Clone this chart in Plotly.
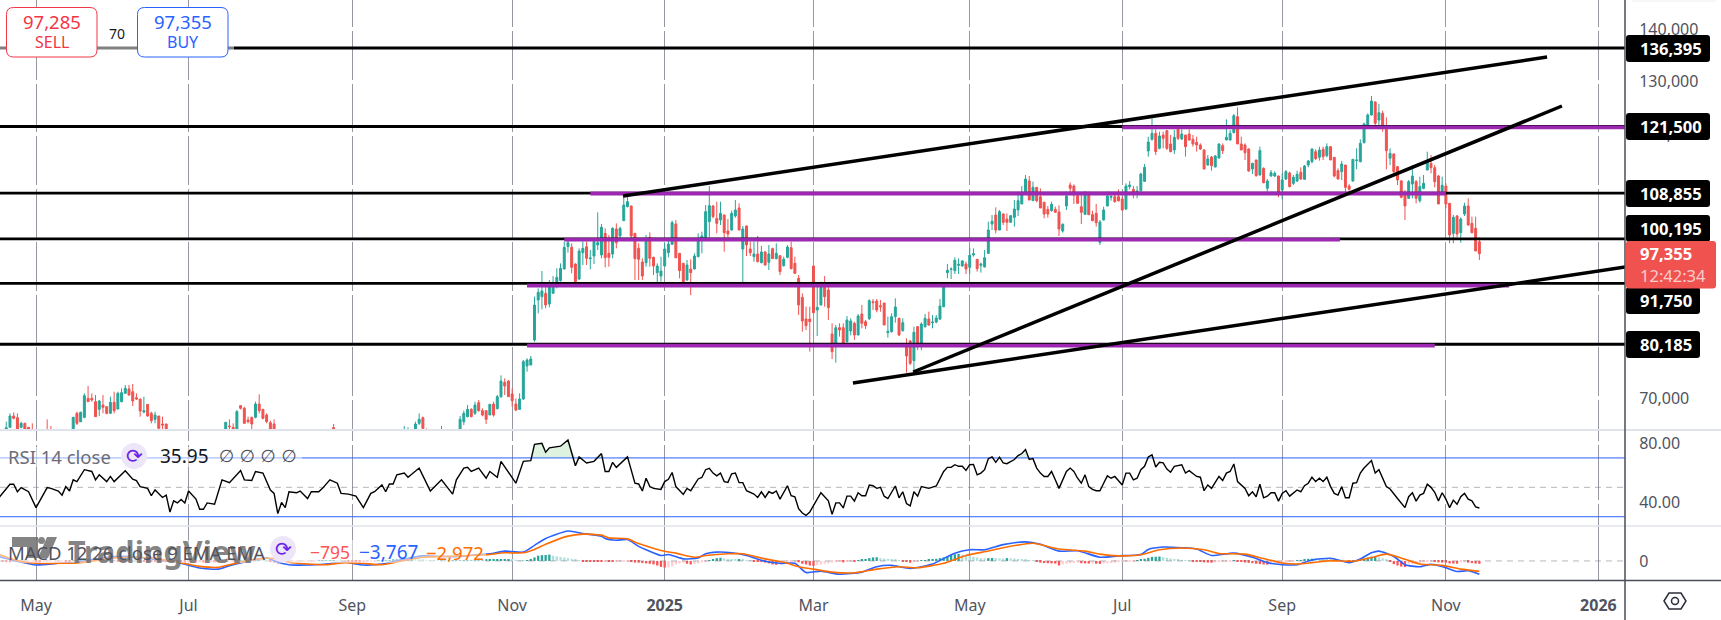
import plotly.graph_objects as go
from plotly.subplots import make_subplots

# candles left of the jump, many of them cut off by the pane bottom
early_bars = [-8, -7, -6, -5, -4, -3, -2, -1, 3, 4,
              10, 11, 12, 13, 14, 15, 16, 17, 18, 19,
              20, 21, 22, 23, 24, 25, 26, 27, 28, 29,
              30, 31, 32, 33, 34, 35,
              51, 52, 53, 54, 55, 56, 57, 58, 59, 60, 61, 62, 63, 64,
              80,
              99, 100, 102, 103, 104, 105, 109,
              114, 115, 116, 117, 118, 119, 120, 121, 122, 123, 124]
early_open = [63800, 64416, 66567, 66251, 64416, 65175, 64416, 63800, 63700, 63700,
              63800, 67073, 65491, 66314, 69920, 69920, 69287, 67832, 68655, 68338,
              67073, 69160, 67896, 69287, 70869, 71691, 71184, 70046, 69793, 67326,
              68781, 67073, 65934, 66567, 65049, 65049,
              63800, 64669, 64416, 63800, 68528, 68023, 65808, 66314, 66314, 68844, 67832, 66757, 65302, 65049,
              64353,
              63600, 63600, 63800, 65175, 66251, 63800, 63600,
              63800, 65491, 66440, 67832, 67073, 69097, 67579, 67579, 66757, 68844, 67959]
early_high = [65490, 67073, 67263, 67073, 65491, 65300, 64500, 65175, 65934, 64669,
              66400, 67389, 67389, 70869, 72260, 70869, 70552, 69603, 70552, 68400,
              70236, 71184, 71184, 71817, 72449, 72449, 72640, 70869, 69793, 70236,
              68781, 67389, 67389, 66567, 66440, 65100,
              65365, 65934, 65175, 67706, 68600, 68338, 66440, 66440, 69287, 70679, 67832, 67073, 65681, 65934,
              65049,
              64669, 64416, 65491, 67073, 66440, 64226, 64669,
              66567, 67579, 68655, 68023, 69287, 69603, 68023, 67579, 68850, 69287, 70552]
early_low = [63500, 64400, 65934, 63500, 64226, 63500, 63500, 63400, 63300, 63300,
             63500, 64859, 65400, 66124, 69287, 69287, 66440, 66567, 67073, 66883,
             67000, 67073, 67832, 69160, 70740, 70426, 68465, 69603, 66440, 67073,
             66440, 65175, 65175, 64100, 63800, 63500,
             63500, 63500, 63500, 63500, 67800, 65175, 65175, 63800, 66124, 67073, 65934, 65175, 63500, 63500,
             63500,
             63400, 63400, 63500, 64859, 63800, 63400, 63400,
             63500, 64859, 66314, 66314, 66757, 67389, 66500, 65049, 66757, 66440, 67832]
early_close = [64350, 66567, 66124, 63800, 65175, 63800, 63800, 63600, 63500, 63500,
               66314, 65175, 67263, 70426, 69287, 69603, 66440, 69413, 68212, 67073,
               69160, 67579, 70869, 70995, 71817, 70552, 69413, 69793, 67516, 67579,
               66567, 65681, 66757, 64226, 64859, 63800,
               65365, 64543, 63800, 67389, 68023, 65175, 65491, 65049, 68844, 67579, 66124, 65491, 63800, 63800,
               63800,
               63800, 63800, 65049, 65934, 64226, 63600, 63800,
               65934, 67073, 67832, 66440, 68655, 67579, 66757, 65934, 68781, 66757, 70236]

# bars 125 to 388, ten per row
main_open = [70235, 72955, 73208, 70741, 68843, 67832, 69793, 76054, 76244, 80988,
             88578, 89210, 89843, 87819, 89843, 91740, 92246, 94460, 98698, 98571,
             95409, 92562, 97559, 98698, 96421, 96926, 99014, 97116, 101228, 97433,
             97306, 102050, 100722, 103631, 106288, 106414, 101228, 98381, 95788, 95662,
             100468, 96674, 93764, 93132, 95029, 97559, 99141, 103000, 97433, 95535,
             92373, 94460, 94460, 96800, 100279, 100468, 103441, 106414, 104074, 103757,
             104706, 101670, 101860, 104516, 106035, 98255, 102619, 98255, 96800, 97306,
             95662, 97686, 95725, 98318, 96421, 96990, 95092, 96674, 98508, 95535,
             92689, 89084, 84973, 84973, 95029, 86680, 87629, 90981, 90475, 82126,
             80355, 83328, 83328, 80671, 82695, 84150, 81936, 85921, 84466, 85035,
             88262, 88388, 87503, 88009, 82379, 82569, 85415, 85099, 82759, 79723,
             80798, 77066, 83518, 80355, 83518, 84973, 84276, 84403, 84973, 87313,
             93764, 94396, 94144, 95156, 95029, 95409, 94776, 97116, 96294, 95156,
             94839, 97433, 102999, 104706, 101860,
             104897, 103948, 103315, 104264, 105656, 106794, 109134, 111159, 107427, 109957,
             108185, 107110, 105782, 105529, 105782, 105276, 101671, 106415, 110399, 110209,
             108375, 106288, 104834, 108502, 104770, 105023, 99520, 103758, 106415, 108059,
             108185, 108185, 107743, 105846, 110083, 109577, 109008, 109325, 111095, 116851,
             119065, 120203, 117357, 119887, 120709, 118179, 117040, 120962, 119128, 119887,
             120077, 119065, 118495, 117990, 117040, 114195, 115712, 113815, 115523, 117863,
             118938, 118938, 120330, 123366, 118179, 117990, 117230, 113435, 115143, 112297,
             113562, 109767, 112107, 112107, 112107, 109450, 111538, 112677, 110716, 111159,
             112803, 111475, 114194, 114827, 116724, 115649, 117167, 115966, 117673, 115649,
             113119, 112930, 114194, 110210, 111159, 115017, 114827, 118432, 121784, 123682,
             126149, 122733, 123998, 120962, 115460, 116282, 113878, 111159, 108502, 107870,
             110589, 111032, 107426, 109767, 113245, 114510, 113688, 112107, 108818, 110210,
             106920, 101228, 104517, 101355, 104897, 106415, 103126, 102176, 99647]
main_high = [74283, 73714, 73400, 71816, 69919, 70868, 77193, 77509, 77952, 89210,
             90791, 94081, 91107, 92373, 93132, 94586, 95535, 99646, 99962, 99330,
             95535, 98381, 99646, 99646, 98065, 100279, 105212, 103000, 102176, 100911,
             102366, 103125, 102493, 108185, 108185, 106500, 101300, 99330, 96484, 100911,
             101417, 96800, 95535, 96800, 99330, 100279, 103631, 103757, 97500, 95600,
             96167, 96294, 97433, 101228, 101544, 106604, 110209, 106604, 107236, 107236,
             104800, 103947, 105529, 107552, 106920, 102619, 102700, 99646, 99646, 100722,
             98824, 97875, 99014, 98508, 99330, 97000, 96800, 99014, 99646, 96800,
             93321, 89843, 87313, 87313, 95100, 91740, 92056, 93132, 91740, 84150,
             83834, 84150, 84150, 85542, 85099, 84466, 85921, 87629, 84782, 88704,
             88768, 88768, 88578, 88009, 85415, 86048, 88894, 85225, 85099, 81304,
             80988, 83518, 83600, 84340, 85921, 86364, 85731, 85731, 88768, 91740,
             95409, 94776, 96674, 96484, 96167, 95851, 98508, 98381, 96300, 95662,
             98065, 103441, 104706, 106161, 105655,
             105023, 105023, 104707, 107553, 108502, 110210, 112297, 112107, 111032, 110000,
             109767, 107237, 106415, 107237, 106288, 106542, 103126, 109134, 110905, 110526,
             108502, 108502, 109261, 109134, 105529, 106795, 103758, 106288, 109134, 108502,
             109134, 109577, 108185, 110716, 111159, 110210, 110210, 112740, 114384, 119571,
             123049, 120962, 120519, 120519, 120835, 119887, 120835, 121152, 120962, 119900,
             120962, 119887, 119571, 118306, 117167, 116092, 115902, 116092, 118306, 118306,
             122860, 120835, 123872, 125137, 119571, 118306, 117357, 114600, 115200, 117673,
             113752, 111538, 113245, 113000, 112200, 112613, 113245, 112930, 112297, 113119,
             113751, 114194, 115143, 117357, 117167, 117673, 117673, 118306, 117800, 115700,
             113562, 114953, 114200, 110589, 115333, 117357, 119065, 122227, 123998, 127287,
             126275, 125769, 124504, 123239, 117357, 116400, 114005, 111348, 109450, 111348,
             114194, 111348, 111981, 112297, 116724, 116092, 114194, 112297, 111981, 110716,
             107000, 104707, 104707, 104264, 107047, 107870, 104390, 104390, 100469]
main_low = [70000, 70551, 70170, 68338, 67500, 67705, 69603, 74979, 76200, 80671,
            86048, 86807, 86996, 87186, 89843, 90791, 92056, 94396, 97559, 93638,
            92000, 92373, 95219, 95219, 94396, 95409, 98065, 96484, 94776, 94902,
            96484, 98381, 99962, 103631, 106161, 100279, 92373, 92373, 92373, 94902,
            94902, 93321, 91930, 92056, 94902, 96674, 99014, 96484, 92689, 91740,
            92246, 89526, 94400, 96700, 97433, 100279, 100468, 104074, 101228, 102809,
            97749, 100468, 101733, 104200, 101800, 91930, 96926, 96926, 95851, 95725,
            95535, 95092, 94270, 96357, 96294, 93321, 94902, 96484, 94396, 93511,
            85731, 82569, 82885, 78774, 86048, 81746, 87600, 87313, 84782, 77383,
            76686, 81620, 80300, 80481, 81873, 80988, 81900, 83201, 83075, 84782,
            86680, 86237, 86364, 83834, 81431, 82379, 84276, 81746, 82569, 74789,
            76244, 75295, 79090, 79090, 83328, 83707, 83201, 84150, 84782, 87186,
            92689, 92562, 93511, 93511, 94902, 93511, 93511, 96800, 93954, 93764,
            94776, 97306, 101860, 101228, 101800,
            102810, 101671, 103300, 102493, 104517, 106794, 108502, 107553, 107400, 107110,
            106035, 104074, 104201, 105340, 105213, 100722, 101355, 105656, 108502, 106795,
            106920, 102999, 104800, 104770, 103506, 102493, 99014, 103700, 106400, 107427,
            107047, 107237, 105529, 105656, 109577, 107870, 107870, 109134, 110968, 115775,
            118812, 116092, 117167, 117357, 117040, 116598, 116282, 118938, 118938, 115776,
            118812, 117673, 116724, 117040, 113372, 114068, 113119, 113752, 115396, 116282,
            118900, 118812, 120203, 118179, 117040, 115143, 112930, 112487, 111981, 112171,
            110715, 109134, 111981, 111900, 108059, 107680, 111348, 109957, 110400, 110968,
            111348, 111348, 113751, 114510, 115143, 115017, 115143, 115649, 115143, 111854,
            111475, 111348, 109134, 109324, 111032, 113372, 114700, 118306, 121658, 123555,
            121784, 120962, 120519, 113372, 114194, 111981, 110399, 107870, 103758, 107743,
            107870, 106920, 107047, 109577, 113200, 112613, 109957, 106795, 108502, 105972,
            99330, 99330, 100469, 99457, 104517, 102683, 101228, 97876, 96168]
main_close = [73208, 72259, 70235, 69475, 67705, 69793, 76876, 77193, 77383, 87629,
              90032, 90285, 87629, 91107, 91424, 92879, 94586, 98571, 99457, 94776,
              92056, 97875, 98381, 96484, 96547, 99646, 99457, 102366, 96610, 96674,
              102176, 99457, 102176, 106604, 107236, 100722, 96421, 96294, 93132, 100089,
              96484, 95029, 95029, 94081, 98255, 99204, 103252, 96610, 94144, 92056,
              95219, 93764, 96926, 99962, 100722, 105339, 106477, 104390, 103125, 105022,
              101354, 101101, 105022, 105655, 101860, 102050, 99014, 97559, 97306, 95851,
              97686, 95219, 97306, 96421, 97433, 93954, 96294, 98634, 94523, 93638,
              87629, 84593, 83707, 84466, 86174, 87186, 90981, 89210, 87123, 78774,
              83328, 82885, 80355, 84782, 84593, 81936, 85542, 84150, 83707, 88451,
              88072, 86680, 87313, 83834, 82632, 85415, 87249, 81936, 84276, 77952,
              76560, 82442, 80355, 84024, 85099, 83834, 84403, 85162, 87439, 91107,
              94207, 94460, 96104, 95345, 95978, 94460, 97053, 97370, 94523, 95409,
              96610, 101860, 103505, 101860, 105339,
              103315, 103315, 104580, 105846, 107427, 108502, 111538, 107553, 109957, 107427,
              106035, 104897, 104897, 106731, 105213, 102050, 102936, 108312, 109767, 108502,
              106920, 105213, 108502, 104770, 103631, 103252, 103379, 105656, 108312, 108185,
              107237, 107427, 105656, 110210, 110399, 108629, 109261, 112487, 113752, 118559,
              120203, 116724, 119697, 119254, 117357, 116724, 119444, 119254, 120077, 117673,
              118938, 118179, 117989, 117230, 113435, 115333, 114068, 115902, 118179, 116914,
              119444, 120203, 123555, 118179, 117040, 116535, 113056, 114510, 112171, 116914,
              110842, 111159, 112740, 112613, 108818, 111348, 112930, 110083, 111854, 112424,
              111538, 114005, 114953, 117230, 115396, 117040, 115776, 117673, 115143, 112107,
              111538, 114384, 109957, 109577, 115270, 115143, 118306, 121974, 123682, 126338,
              122101, 124125, 121784, 116914, 116408, 112930, 111348, 108059, 106414, 111032,
              112107, 107870, 110083, 110716, 115017, 113688, 111032, 106795, 110336, 106795,
              100911, 104264, 101102, 103948, 106415, 102810, 101355, 97876, 97355]

# drawn levels
level_prices = [136395, 121500, 108855, 100195, 91750, 80185]
zone_prices = [121347, 108786, 100020, 91290, 79907]
zone_start = [292, 149, 142, 132, 132]
zone_end = [428, 379, 350.5, 396, 376]
trend_bars = [[157.8, 406.2], [235.8, 410.2], [219.6, 427.2]]
trend_prices = [[108312, 134687], [74915, 125389], [72829, 94839]]

# RSI vertices
rsi_bars = [-10, -7, -6, -5, -4, -2, 0, 3, 4, 6, 7, 8, 9, 10, 11, 13, 15, 16, 17, 19, 20, 21, 24, 26, 27, 28,
            30, 31, 32, 34, 35, 36, 37, 38, 39, 40, 41, 43, 44, 45, 46, 48, 50, 52, 55, 56, 58, 59, 61, 62,
            63, 64, 65, 66, 67, 68, 70, 71, 73, 74, 76, 77, 79, 81, 82, 84, 86, 88, 90, 91, 93, 94, 95, 96,
            97, 99, 100, 103, 106, 109, 112, 113, 115, 116, 117, 119, 121, 122, 124, 125, 129, 131, 133, 134,
            136, 137, 138, 141, 143, 145, 146, 148, 150, 152,
            153, 154, 155, 156, 159, 161, 162, 163, 164, 165, 166, 168, 169, 170, 171, 172, 174, 175, 176, 178,
            179, 180, 181, 182, 183, 184, 185, 186, 187, 188, 189, 190, 191, 193, 194, 195, 196, 197, 198, 199,
            200, 202, 203, 204, 205, 206, 207, 208, 209, 211, 213, 214, 215, 216, 217, 218, 219, 220, 221, 222,
            223, 224, 225, 226, 227, 228, 229, 231, 232, 233, 234, 235, 236, 237, 238, 240, 242, 244, 245, 246,
            247, 248, 249, 250, 251, 252, 253, 254, 255, 256, 257, 258, 259, 260, 261, 263, 264, 265, 266, 267,
            268, 269, 270, 271, 272, 273, 274, 275, 277, 278, 279, 280, 281, 282, 283, 284, 285, 286,
            287, 288, 289, 290, 292, 293, 294, 295, 296, 297, 298, 299, 300, 301, 302, 303, 304, 305, 306, 308,
            309, 310, 312, 313, 314, 315, 316, 318, 319, 320, 321, 322, 323, 324, 325, 326, 327, 328, 329, 330,
            331, 332, 333, 334, 335, 336, 337, 339, 340, 341, 342, 343, 344, 345, 346, 347, 348, 349, 350, 351,
            352, 353, 354, 355, 356, 357, 358, 359, 360, 361, 363, 364, 366, 368, 369, 370, 371, 372, 373, 374,
            375, 376, 377, 378, 379, 380, 381, 382, 383, 384, 385, 386, 387, 388]
rsi_values = [42.9, 52.1, 52.1, 47.0, 49.8, 47.0, 36.2, 49.8, 49.3, 47.5, 44.7, 50.5, 47.5, 55.1, 53.9, 62.0, 60.8, 55.1, 58.5, 53.9, 57.4, 53.9, 61.3, 55.5, 54.6, 50.5,
              49.3, 44.3, 48.2, 43.1, 44.7, 33.2, 40.8, 39.4, 41.7, 39.4, 47.5, 42.0, 35.1, 35.1, 39.4, 38.5, 55.1, 53.2, 61.5, 55.1, 54.6, 60.8, 59.7, 53.9,
              48.2, 45.9, 32.1, 39.7, 36.2, 47.0, 46.3, 47.5, 42.4, 47.0, 47.0, 49.3, 55.1, 52.8, 45.9, 45.4, 44.0, 36.2, 45.9, 47.0, 51.6, 47.0, 52.3, 52.3,
              58.5, 59.7, 56.9, 63.1, 47.5, 55.1, 45.4, 55.1, 63.1, 63.6, 60.8, 63.1, 56.2, 60.8, 56.9, 67.7, 52.8, 67.7, 68.2, 79.2,
              79.9, 73.9, 76.9, 78.0, 82.2, 64.7, 70.7, 66.6, 67.7, 73.0,
              60.8, 60.8, 67.0, 63.6, 70.7, 52.8, 52.3, 47.5, 56.2, 50.5, 49.3, 48.6, 53.9, 55.5, 60.1, 50.5, 45.2, 49.3, 47.7, 55.7,
              56.7, 62.0, 62.9, 59.7, 57.8, 59.7, 53.9, 53.4, 59.2, 59.7, 53.2, 53.2, 47.7, 45.4, 43.1, 47.0, 43.1, 47.0, 45.9, 47.5,
              42.0, 51.1, 44.3, 43.6, 35.5, 32.5, 30.9, 33.2, 37.8, 46.3, 40.8, 31.6, 39.4, 39.4, 36.0, 44.0, 44.0, 40.6, 46.3, 44.3,
              44.3, 51.6, 51.1, 49.3, 50.0, 44.0, 42.4, 50.9, 42.9, 47.0, 39.0, 37.4, 47.0, 44.0, 50.5, 49.3, 50.9, 60.8, 63.6, 63.6,
              65.4, 64.3, 64.3, 61.5, 65.4, 65.6, 58.5, 59.7, 62.0, 69.5, 70.7, 67.0, 70.5, 66.6, 66.1, 68.9, 71.6, 73.0, 75.7, 68.9,
              69.5, 63.1, 59.7, 57.4, 57.4, 60.8, 55.1, 49.3, 60.8, 63.1, 60.8, 56.2, 52.8, 58.5, 50.5, 48.6, 47.7, 47.7,
              52.8, 57.8, 56.2, 57.4, 51.6, 59.7, 59.7, 55.1, 56.2, 62.0, 64.3, 70.7, 72.1, 63.8, 67.0, 66.6, 62.4, 60.3, 64.3, 65.4,
              59.7, 61.3, 57.4, 56.9, 47.7, 51.6, 49.3, 57.4, 54.6, 59.7, 60.8, 65.9, 53.9, 51.6, 49.3, 44.3, 47.0, 43.6, 52.1, 42.9,
              44.0, 46.3, 46.3, 40.6, 45.9, 47.7, 44.0, 48.2, 47.0, 51.1, 52.8, 56.9, 53.9, 56.2, 53.9, 56.9, 50.5, 45.9, 44.7, 50.5,
              42.9, 42.9, 52.8, 53.2, 59.7, 63.1, 65.9, 68.2, 59.7, 62.0, 50.5, 48.9, 42.4, 36.2, 43.6, 46.3, 40.6, 44.7, 45.9, 52.1,
              50.0, 46.6, 40.8, 46.3, 42.0, 36.2, 41.3, 38.5, 43.6, 45.9, 42.0, 40.8, 36.7, 35.95]

# MACD and signal lines
macd_bars = [-10, -5, 0, 6, 11, 16, 21, 26, 31, 38, 44, 49, 52, 57, 62, 65, 68, 73, 78, 83, 88, 93, 98, 104, 109, 114,
             119, 122, 126, 131, 134, 137, 143, 147, 152, 153, 156, 159, 162, 164, 168, 170, 174, 178, 180, 183, 187, 191,
             196, 200, 204, 207, 211, 216, 222, 226, 230, 235, 241, 247, 251, 255, 260, 266, 270, 275, 280, 286,
             291, 297, 299, 303, 308, 312, 316, 322, 327, 331, 335, 339, 343, 348, 353, 356, 359, 361, 365, 368,
             372, 375, 378, 382, 385, 388]
macd_values = [1257, -97, -1160, -677, -387, 580, 1257, 1257, 580, -387, -2031, -2321, -1354, -97, 870, -387, -1064, -1160, -870, -387, -1160, -870, 290, 1450, 1257, 1257,
               1837, 2031, 2804, 2514, 4448, 6382, 8510, 7833, 7059, 6382, 5899, 6092, 4158, 3191, 1547, 1837, 580, 870, 2031, 2514, 2321, 1547,
               -97, -677, -677, -3288, -2901, -3771, -3191, -1644, -1257, -2127, -870, 2224, 3191, 3191, 4642, 5415, 4738, 2804, 2901, 1064,
               1450, 1837, 3288, 3965, 3771, 3385, 1547, 2224, 1064, -484, -1064, -1064, 290, 774, -484, 580, 2321, 2804, 1257, -1064,
               -1644, -967, -1547, -2998, -2804, -3767]
signal_bars = [-10, -5, 0, 6, 11, 16, 21, 26, 31, 38, 44, 49, 52, 57, 62, 65, 68, 73, 78, 83, 88, 93, 98, 104, 109, 114,
               119, 122, 126, 131, 134, 137, 143, 147, 152, 154, 159, 162, 168, 172, 177, 180, 186, 190, 196, 201, 205, 209,
               214, 220, 226, 232, 237, 244, 250, 256, 260, 268, 275, 282, 286,
               291, 297, 302, 308, 314, 318, 325, 330, 335, 339, 343, 348, 354, 359, 363, 368, 372, 378, 383, 388]
signal_values = [1837, 97, -677, -677, -580, 97, 870, 1064, 870, -387, -1547, -1837, -1064, 97, 774, 580, -387, -870, -1064, -484, -677, -1064, -97, 1064, 1257, 1450,
                 1644, 1837, 2321, 2321, 3288, 4738, 7059, 7639, 7349, 6576, 6286, 4932, 2998, 2224, 1064, 1547, 2031, 2031, 580, -387, -1644, -2321,
                 -3191, -3385, -2321, -1644, -1934, -677, 1547, 2804, 3771, 5028, 3385, 2804, 1934,
                 1450, 1741, 3191, 3675, 3191, 2127, 1934, 677, -580, -870, -484, 97, -97, 967, 1934, 484, -870, -1257, -2321, -2972]

# MACD histogram, one value per bar from bar -9 on
hist_values = [-300, -350, -400, -300, -250, -200, -150, -120, -100,
               -400, -450, -300, -200, -100, -50, -30, -20, -30, -40,
               50, 100, 150, 100, 60, 120, 180, 200, 150, 100,
               60, 30, -20, -60, -80, -100, -60, -40, -50, -100,
               -150, -200, -250, -280, -300, -320, -350, -400, -450, -500,
               -520, -500, -480, -500, -480, -500, -480, -450, -460, -480,
               -300, -200, -100, -50, 50, 100, 120, 130, 100, 80,
               90, 70, 30, -300, -500, -680, -600, -500, -450, -400,
               -350, -320, -300, -280, -200, -100, 50, 150, 180, 200,
               250, 220, 180, 150, -100, -300, -400, -450, -450, -400,
               -200, -50, 50, 150, 200, 250, 280, 300, 350, 380,
               400, 420, 400, 380, 350, 250, 150, 50, 30, 50,
               50, 60, 80, 100, 120, 150, 180, 200, 220, 240, 260, 280, 300, 330, 350,
               380, 420, 480, 300, 220, 200, 180, 260, 480,
               1000, 1500, 1650, 1700, 1800,
               1500, 1300, 1100, 950, 800, 500, 350,
               150, -50, -100, -150, -200, -250, -300,
               -250, -280, -300, -200, -150, -100, -80,
               -300, -450, -500, -600, -700, -800,
               -1000, -1300, -1700, -1900, -1800,
               -1500, -1000, -700, -500, -800, -1000, -900, -700, -400, -200,
               100, 500, 800, 900, 700, 500, 400, 300, 400, 350,
               200, 100, -100, -150, -300, -500, -700, -1000, -1100, -900,
               -700, -500, -400, -300, -400, -800, -1000, -1300, -1400, -1200,
               -1000, -800, -700, -500, -400, -300, -400, -200, -100, -200,
               100, 400, 500, 800, 1000, 1050, 800, 700, 600, 500,
               300, 100, -200, -300, -500, -400, -200, 100, 200, 350,
               500, 600, 800, 1000, 1300, 1700, 1900, 2000, 1800, 1500,
               1400, 1200, 1000, 800, 700, 800, 850, 800, 750, 700,
               800, 750, 700, 600, 500, 400, 200, 100, -300, -500,
               -600, -650, -700, -750, -1300, -1000, -800, -650, -600, -500,
               -650, -700, -750, -700, -800, -850,
               -700, -650, -600, -500, -400, -300, -250, -150, -100, 50,
               300, 600, 900, 1150, 1200, 1250, 1100,
               900, 700, 500, 300, 200, 100, 50,
               -50, -200, -300, -400, -450, -500,
               -400, -350, -300, -200, -150, 150,
               -150, -300, -450, -550, -650, -800, -900, -1000, -1050,
               -950, -850, -700, -550, -400, -300, -150,
               100, 250, 450, 600, 650, 600, 550, 500, 450, 400, 300,
               200, 100, 0, -50, 50, 200, 500,
               700, 950, 1200, 1250, 1050, 800,
               300, -300, -900, -1300, -1600, -1750,
               -1000, -850, -700, -550, -400, -300, -200,
               -300, -400, -450, -500, -700, -750, -780, -400, -350, -500, -600, -750, -795]

tick_bars = [0, 41, 85, 128, 169, 209, 251, 292, 335, 379, 420]
tick_labels = ["May", "Jul", "Sep", "Nov", "<b>2025</b>", "Mar", "May", "Jul", "Sep", "Nov", "<b>2026</b>"]
price_ticks = [70000, 80000, 90000, 100000, 110000, 120000, 130000, 140000]
# 80k, 90k and 100k sit fully behind the black price tags
price_tick_labels = ["70,000", "", "", "", "110,000", "120,000", "130,000", "140,000"]

UP = "#26a69a"
DOWN = "#ef5350"
PURPLE = "#9c27b0"
TEXT = "#50535e"
GRID = "#9598a1"
FONT = "Noto Sans"
MARK = "rgba(105,105,105,0.82)"

PLOT_W = 1625
PLOT_H = 581
X_RANGE = [-9.68, 427.15]


def px(x):
    return x / PLOT_W


def py(y):
    return (PLOT_H - y) / PLOT_H


def round_rect(x0, y0, x1, y1, r):
    """Rounded rectangle path in paper coords, input in screen pixels"""
    pts = [("M", x0 + r, y0), ("L", x1 - r, y0), ("Q", x1, y0, x1, y0 + r), ("L", x1, y1 - r),
           ("Q", x1, y1, x1 - r, y1), ("L", x0 + r, y1), ("Q", x0, y1, x0, y1 - r), ("L", x0, y0 + r),
           ("Q", x0, y0, x0 + r, y0)]
    out = []
    for p in pts:
        if p[0] == "Q":
            out.append(f"Q{px(p[1])},{py(p[2])} {px(p[3])},{py(p[4])}")
        else:
            out.append(f"{p[0]}{px(p[1])},{py(p[2])}")
    return " ".join(out) + " Z"


def polygon(points):
    return "M" + " L".join(f"{px(a)},{py(b)}" for a, b in points) + " Z"


fig = make_subplots(rows=3, cols=1, shared_xaxes=True, vertical_spacing=0,
                    row_heights=[430, 96, 55])

fig.add_trace(go.Candlestick(
    x=early_bars + list(range(125, 389)),
    open=early_open + main_open,
    high=early_high + main_high,
    low=early_low + main_low,
    close=early_close + main_close,
    increasing=dict(line=dict(color=UP, width=1), fillcolor=UP),
    decreasing=dict(line=dict(color=DOWN, width=1), fillcolor=DOWN),
    whiskerwidth=0,
    hoverinfo="skip"
), row=1, col=1)

for price in level_prices:
    fig.add_trace(go.Scatter(x=X_RANGE, y=[price, price], mode="lines",
                             line=dict(color="#000000", width=2.8), hoverinfo="skip"), row=1, col=1)
for price, start, end in zip(zone_prices, zone_start, zone_end):
    fig.add_trace(go.Scatter(x=[start, end], y=[price, price], mode="lines",
                             line=dict(color=PURPLE, width=3.8), hoverinfo="skip"), row=1, col=1)
for bars, prices in zip(trend_bars, trend_prices):
    fig.add_trace(go.Scatter(x=bars, y=prices, mode="lines",
                             line=dict(color="#000000", width=3.5), hoverinfo="skip"), row=1, col=1)

# RSI pane
fig.add_trace(go.Scatter(x=rsi_bars, y=[70] * len(rsi_bars), mode="lines",
                         line=dict(width=0), hoverinfo="skip"), row=2, col=1)
fig.add_trace(go.Scatter(x=rsi_bars, y=[max(v, 70) for v in rsi_values], mode="lines",
                         line=dict(width=0), fill="tonexty", fillcolor="rgba(76,175,80,0.18)",
                         hoverinfo="skip"), row=2, col=1)
for level in [70, 30]:
    fig.add_trace(go.Scatter(x=X_RANGE, y=[level, level], mode="lines",
                             line=dict(color="#2962ff", width=1), hoverinfo="skip"), row=2, col=1)
fig.add_trace(go.Scatter(x=X_RANGE, y=[50, 50], mode="lines",
                         line=dict(color="rgba(120,123,134,0.55)", width=1, dash="6px,5px"),
                         hoverinfo="skip"), row=2, col=1)
fig.add_trace(go.Scatter(x=rsi_bars, y=rsi_values, mode="lines",
                         line=dict(color="#000000", width=1.4), hoverinfo="skip"), row=2, col=1)

# MACD pane
hist_colors = []
prev = 0
for v in hist_values:
    if v >= 0:
        hist_colors.append(UP if v > prev else "#b2dfdb")
    else:
        hist_colors.append("#ff5252" if v < prev else "#ffcdd2")
    prev = v
fig.add_trace(go.Scatter(x=X_RANGE, y=[0, 0], mode="lines",
                         line=dict(color="rgba(120,123,134,0.55)", width=1, dash="6px,5px"),
                         hoverinfo="skip"), row=3, col=1)
fig.add_trace(go.Bar(x=list(range(-9, -9 + len(hist_values))), y=hist_values, width=0.62,
                     marker=dict(color=hist_colors, line=dict(width=0)), hoverinfo="skip"), row=3, col=1)
fig.add_trace(go.Scatter(x=macd_bars, y=macd_values, mode="lines",
                         line=dict(color="#2962ff", width=1.6, shape="spline", smoothing=0.6),
                         hoverinfo="skip"), row=3, col=1)
fig.add_trace(go.Scatter(x=signal_bars, y=signal_values, mode="lines",
                         line=dict(color="#ff6d00", width=1.6, shape="spline", smoothing=0.6),
                         hoverinfo="skip"), row=3, col=1)

for row in [1, 2, 3]:
    fig.update_xaxes(range=X_RANGE, tickmode="array", tickvals=tick_bars, ticktext=tick_labels,
                     showgrid=True, gridcolor=GRID, gridwidth=1, zeroline=False, showline=False,
                     rangeslider_visible=False, row=row, col=1,
                     showticklabels=row == 3, ticks="outside" if row == 3 else "",
                     ticklen=10, tickcolor="rgba(0,0,0,0)",
                     tickfont=dict(family=FONT, size=16, color=TEXT))

fig.update_yaxes(range=[63910, 145503], side="right", tickmode="array", tickvals=price_ticks,
                 ticktext=price_tick_labels, showgrid=True, gridcolor="#ffffff", gridwidth=4, zeroline=False,
                 ticks="outside", ticklen=10, tickcolor="rgba(0,0,0,0)",
                 tickfont=dict(family=FONT, size=16, color=TEXT), row=1, col=1)
fig.update_yaxes(range=[23.7, 89], side="right", tickmode="array", tickvals=[80, 40],
                 tickformat=".2f", showgrid=True, gridcolor="#ffffff", gridwidth=4, zeroline=False,
                 ticks="outside", ticklen=10, tickcolor="rgba(0,0,0,0)",
                 tickfont=dict(family=FONT, size=16, color=TEXT), row=2, col=1)
fig.update_yaxes(range=[-5713, 9950], side="right", tickmode="array", tickvals=[0], ticktext=["0"],
                 showgrid=False, zeroline=False,
                 ticks="outside", ticklen=10, tickcolor="rgba(0,0,0,0)",
                 tickfont=dict(family=FONT, size=16, color=TEXT), row=3, col=1)

shapes = []


def add_rect(x0, y0, x1, y1, fill, line=None, width=1):
    shapes.append(dict(type="rect", xref="paper", yref="paper", x0=px(x0), x1=px(x1), y0=py(y0), y1=py(y1),
                       fillcolor=fill, line=dict(color=line or "rgba(0,0,0,0)", width=width if line else 0),
                       layer="above"))


def add_line(x0, y0, x1, y1, color, width):
    shapes.append(dict(type="line", xref="paper", yref="paper", x0=px(x0), x1=px(x1), y0=py(y0), y1=py(y1),
                       line=dict(color=color, width=width), layer="above"))


def add_path(path, fill, line=None, width=1):
    shapes.append(dict(type="path", xref="paper", yref="paper", path=path, fillcolor=fill,
                       line=dict(color=line or "rgba(0,0,0,0)", width=width if line else 0), layer="above"))


# translucent backing of the legends and the order widget
add_rect(0, 447, 302, 467, "rgba(255,255,255,0.5)")
add_rect(0, 540, 486, 563, "rgba(255,255,255,0.5)")
add_rect(0, 42, 234, 54, "rgba(255,255,255,0.5)")

# pane borders and axis frame
add_line(0, 430, 1721, 430, "#e0e3eb", 2)
add_line(0, 526, 1721, 526, "#e0e3eb", 1.5)
add_line(0, 580.5, 1721, 580.5, "#4a4d57", 1.5)
add_line(1625, 0, 1625, 620, "#4a4d57", 1.5)
add_line(1632, 1, 1716, 1, "#eceef2", 1)

# order widget
add_path(round_rect(6.5, 7.5, 97, 57, 7), "#ffffff", "#f23645", 1)
add_path(round_rect(137.5, 7.5, 228, 57, 7), "#ffffff", "#2962ff", 1)

# watermark logo
add_path(polygon([(12, 537), (38, 537), (38, 558), (27, 558), (27, 547), (12, 547)]), MARK)
add_path(polygon([(47, 537), (57, 537), (48, 558), (38, 558)]), MARK)
shapes.append(dict(type="circle", xref="paper", yref="paper", x0=px(38), x1=px(45), y0=py(537), y1=py(544),
                   fillcolor=MARK, line=dict(width=0), layer="above"))

# legend icons
for cx, cy in [(134, 456), (283, 549)]:
    shapes.append(dict(type="circle", xref="paper", yref="paper", x0=px(cx - 13), x1=px(cx + 13),
                       y0=py(cy - 13), y1=py(cy + 13), fillcolor="#ece6f8", line=dict(width=0), layer="above"))

# price tags
tag_rows = [(35, 62, 1710), (113, 140, 1710), (180, 207, 1710), (215, 242, 1710), (287, 314, 1700), (331, 358, 1700)]
for top, bottom, right in tag_rows:
    add_path(round_rect(1626, top, right, bottom, 3), "#000000")
add_path(round_rect(1626, 241, 1716, 288.5, 3), "#f0524f")

# settings icon in the corner
add_path(polygon([(1664, 601), (1669, 593), (1681, 593), (1686, 601), (1681, 609), (1669, 609)]),
         "rgba(0,0,0,0)", "#2a2e39", 1.5)
shapes.append(dict(type="circle", xref="paper", yref="paper", x0=px(1671.5), x1=px(1678.5), y0=py(597.5), y1=py(604.5),
                   fillcolor="rgba(0,0,0,0)", line=dict(color="#2a2e39", width=1.5), layer="above"))

annotations = []


def add_text(text, x, y, size, color, anchor="left", family=FONT):
    annotations.append(dict(text=text, x=px(x), y=py(y), xref="paper", yref="paper", showarrow=False,
                            xanchor=anchor, yanchor="middle", borderpad=0,
                            font=dict(family=family, size=size, color=color)))


add_text("97,285", 51.5, 22, 18.5, "#f23645", "center")
add_text("SELL", 51.5, 42, 16, "#f23645", "center")
add_text("97,355", 182.5, 22, 18.5, "#2962ff", "center")
add_text("BUY", 182.5, 42, 16, "#2962ff", "center")
add_text("70", 117, 33, 14, "#131722", "center")

for label, y in [("136,395", 48.5), ("121,500", 126.5), ("108,855", 193.5), ("100,195", 228.5),
                 ("91,750", 300.5), ("80,185", 344.5)]:
    add_text(f"<b>{label}</b>", 1639, y, 16.6, "#ffffff")
add_text("<b>97,355</b>", 1639, 253, 16.6, "#ffffff")
add_text("12:42:34", 1639, 275, 16.5, "rgba(255,255,255,0.72)")

add_text("<b>TradingView</b>", 67, 551, 30.5, MARK)

add_text("RSI 14 close", 7, 456, 18.5, "#6a6d78")
add_text("⟳", 134, 456, 20, "#6a22e6", "center", "DejaVu Sans")
add_text("35.95", 159, 456, 19, "#131722")
add_text("∅ ∅ ∅ ∅", 218, 456, 17.5, "#4a4d57", "left", "DejaVu Sans")

add_text("MACD 12 26 close 9 EMA EMA", 7, 552, 18.5, TEXT)
add_text("⟳", 283, 549, 20, "#6a22e6", "center", "DejaVu Sans")
add_text("−795", 309, 552, 17.5, "#ff5252")
add_text("−3,767", 358, 552, 19, "#2962ff")
add_text("−2,972", 425, 552, 18.5, "#ff6d00")

fig.update_layout(
    width=1721,
    height=620,
    autosize=False,
    margin=dict(l=0, r=96, t=0, b=39),
    paper_bgcolor="#ffffff",
    plot_bgcolor="#ffffff",
    showlegend=False,
    barmode="overlay",
    boxgap=0.25,
    shapes=shapes,
    annotations=annotations,
    font=dict(family=FONT)
)

fig.write_html("out.html", config=dict(displayModeBar=False),
               post_script="document.body.style.margin='0';document.body.style.overflow='hidden';")
